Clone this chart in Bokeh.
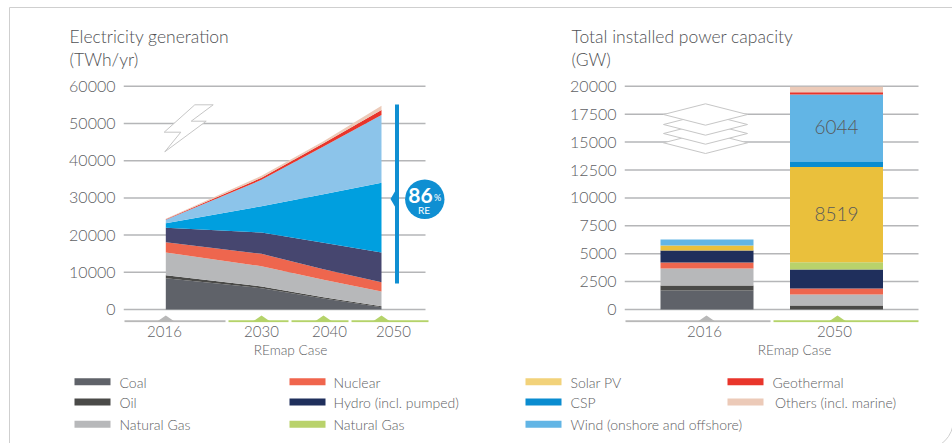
from bokeh.plotting import figure
from bokeh.layouts import column, row
from bokeh.embed import file_html
from bokeh.resources import INLINE
from bokeh.models import (Range1d, LinearAxis, FixedTicker, Title, InlineStyleSheet)
from bokeh.core.properties import value
import numpy as np

FONT = "Lato"
LIGHT = "Lato Light, Lato"
TXT = "#606164"

# ---------- data ----------
gen_years = [2016, 2030, 2040, 2050]
gen_ticks = [0, 10000, 20000, 30000, 40000, 50000, 60000]
gen_coal = [8420, 5730, 2960, 630]
gen_oil = [810, 450, 360, 270]
gen_gas = [6090, 5470, 4650, 3940]
gen_nuclear = [2780, 3310, 2870, 2510]
gen_hydro = [3850, 5740, 7080, 7970]
gen_solar = [1250, 7080, 13080, 18730]
gen_wind = [900, 7070, 12800, 18250]
gen_geo = [180, 550, 900, 1300]
gen_others = [120, 530, 550, 1200]
gen_names = ["Coal", "Oil", "Natural Gas", "Nuclear", "Hydro", "Solar", "Wind", "Geothermal", "Others"]
gen_series = [gen_coal, gen_oil, gen_gas, gen_nuclear, gen_hydro, gen_solar, gen_wind, gen_geo, gen_others]
gen_colors = ["#5f6269", "#4a4a48", "#b7b8ba", "#ee664e", "#46466f", "#009fdf", "#8cc4ea", "#e8352b", "#eccab8"]

cap_years = ["2016", "2050"]
cap_ticks = [0, 2500, 5000, 7500, 10000, 12500, 15000, 17500, 20000]
cap_coal = [1700, 0]
cap_oil = [450, 360]
cap_gas = [1530, 985]
cap_nuclear = [535, 540]
cap_hydro = [1075, 1705]
cap_green = [0, 655]
cap_solar = [450, 8519]
cap_csp = [0, 450]
cap_wind = [540, 6044]
cap_geo = [0, 200]
cap_others = [0, 500]
cap_series = [cap_coal, cap_oil, cap_gas, cap_nuclear, cap_hydro, cap_green, cap_solar, cap_csp, cap_wind, cap_geo, cap_others]
cap_colors = ["#5f6269", "#4a4a48", "#b7b8ba", "#ee664e", "#1f2f5c", "#b9d26b", "#eac03c", "#0a8cd0", "#62b5e5", "#e8352b", "#eccab8"]

legend_labels = [["Coal", "Oil", "Natural Gas"],
                 ["Nuclear", "Hydro (incl. pumped)", "Natural Gas"],
                 ["Solar PV", "CSP", "Wind (onshore and offshore)"],
                 ["Geothermal", "Others (incl. marine)"]]
legend_colors = [["#5f6269", "#4a4a48", "#b7b8ba"],
                 ["#f0654d", "#1f2f5c", "#b9d26b"],
                 ["#f2d27a", "#0a8cd0", "#62b5e5"],
                 ["#e9352b", "#eccab8"]]

# ---------- layout (page pixels) ----------
Y0 = 309.0            # page y of zero line
PX_PER_UNIT_GEN = 37.2 / 10000
PX_PER_UNIT_CAP = 37.2 / 3333.3333
FRAME_TOP, FRAME_BOTTOM = 72, 322
FIG_TOP, FIG_BOTTOM = 0, 368


def chart(fig_left, fig_right, frame_left, frame_right, scale, ticks, title1, title2, title_x):
    p = figure(width=fig_right - fig_left, height=FIG_BOTTOM - FIG_TOP, output_backend="svg",
               toolbar_location=None, x_axis_type=None, y_axis_type=None,
               min_border_left=frame_left - fig_left, min_border_right=fig_right - frame_right,
               min_border_top=FRAME_TOP - FIG_TOP, min_border_bottom=FIG_BOTTOM - FRAME_BOTTOM,
               x_range=Range1d(frame_left, frame_right),
               y_range=Range1d((Y0 - FRAME_BOTTOM) / scale, (Y0 - FRAME_TOP) / scale),
               outline_line_color=None, background_fill_color=None, border_fill_color=None)
    p.grid.visible = False
    p.extra_y_ranges = {"py": Range1d(FRAME_BOTTOM, FRAME_TOP)}
    ax = LinearAxis(ticker=FixedTicker(ticks=ticks), axis_line_color=None, major_tick_line_color=None,
                    minor_tick_line_color=None, major_label_standoff=2,
                    major_label_text_font=LIGHT, major_label_text_font_size="16px",
                    major_label_text_color=TXT)
    p.add_layout(ax, "left")
    for t, st in ((title2, 6), (title1, -6)):
        p.add_layout(Title(text=t, text_font=LIGHT, text_font_size="17.5px", text_font_style="normal",
                           text_color="#505154", text_line_height=1.0, align="left",
                           offset=title_x - frame_left, standoff=st), "above")
    return p


def below_axis(p, ticks, labels, size="15px", standoff=-3):
    ax = LinearAxis(ticker=FixedTicker(ticks=ticks), major_label_overrides=dict(zip(ticks, labels)),
                    axis_line_color=None, major_tick_line_color=None, minor_tick_line_color=None,
                    major_label_standoff=standoff, major_label_text_font=LIGHT,
                    major_label_text_font_size=size, major_label_text_color=TXT)
    p.add_layout(ax, "below")


def strips(p, spans, colors, peaks):
    for (a, b), c, m in zip(spans, colors, peaks):
        p.segment(x0=[a], x1=[b], y0=[320.7], y1=[320.7], line_color=c, line_width=2, y_range_name="py")
        p.patch(x=[m - 8, m, m + 8], y=[320.5, 315, 320.5], fill_color=c, line_color=None, y_range_name="py")


# ---------- left chart ----------
left = chart(0, 484, 123, 450, PX_PER_UNIT_GEN, gen_ticks, "Electricity generation", "(TWh/yr)", 69)
left.segment(x0=123, x1=425, y0=gen_ticks, y1=gen_ticks, line_color="#b5b6b8", line_width=1.5)
area_x = [165.3, 261, 323, 381]   # horizontal position of each year on the strip below
base = np.zeros(4)
for s, c, n in zip(gen_series, gen_colors, gen_names):
    top = base + np.array(s)
    left.varea(x=area_x, y1=base, y2=top, fill_color=c, name=n)
    base = top
below_axis(left, [164, 261, 329, 393], [str(y) for y in gen_years])
below_axis(left, [290], ["REmap Case"], size="13.7px", standoff=-5)
strips(left, [(124, 225), (228, 288), (291, 348), (351, 428)],
       ["#b8b8b8", "#b5d36a", "#b5d36a", "#b5d36a"], area_x)
# bolt icon
bolt_x = [194.3, 212.7, 190.7, 205.7, 164.3, 180.3, 163.7]
bolt_y = [104.3, 104.3, 120.7, 120.7, 151.3, 131.7, 131.7]
left.patch(x=bolt_x, y=bolt_y, fill_color="white", line_color="#c6c6c6", line_width=1, y_range_name="py")
# RE bracket
left.segment(x0=[396.5], x1=[396.5], y0=[104], y1=[283], line_color="#0f8fd2", line_width=4, y_range_name="py")
left.patch(x=[390, 395, 395], y=[198.5, 190, 207], fill_color="#0f8fd2", line_color=None, y_range_name="py")
left.circle(x=[424.3], y=[198.8], radius=19.7, fill_color="#0f8fd2", line_color=None, y_range_name="py")
left.text(x=[420], y=[194.5], text=["86"], text_color="white", text_font=value(FONT), text_font_style="bold",
          text_font_size="21px", text_align="center", text_baseline="middle", y_range_name="py")
left.text(x=[437], y=[197], text=["%"], text_color="white", text_font=value(FONT),
          text_font_size="9px", text_align="center", text_baseline="middle", y_range_name="py")
left.text(x=[423.5], y=[209], text=["RE"], text_color="white", text_font=value(FONT),
          text_font_size="10px", text_align="center", text_baseline="middle", y_range_name="py")

# ---------- right chart ----------
right = chart(484, 952, 624, 930, PX_PER_UNIT_CAP, cap_ticks, "Total installed power capacity", "(GW)", 571)
right.segment(x0=624, x1=918, y0=cap_ticks, y1=cap_ticks, line_color="#b5b6b8", line_width=1.5)
bar_x = [706.5, 836]
base = np.zeros(2)
mids = {}
for s, c in zip(cap_series, cap_colors):
    top = base + np.array(s)
    right.vbar(x=bar_x, bottom=base, top=top, width=93, fill_color=c, line_color=None)
    mids[c] = (base + top) / 2
    base = top
right.text(x=[bar_x[1]] * 2, y=[mids["#eac03c"][1], mids["#62b5e5"][1]],
           text=[str(cap_solar[1]), str(cap_wind[1])], text_color="#58595b", text_font=value(LIGHT),
           text_font_size="19px", text_align="center", text_baseline="middle", y_offset=-1)
below_axis(right, [704, 834], cap_years)
below_axis(right, [794], ["REmap Case"], size="13.7px", standoff=-5)
strips(right, [(625, 770), (773, 918)], ["#b8b8b8", "#b5d36a"], [706, 837])
# layers icon
for cy in (142.3, 133, 124, 114):
    right.patch(x=[663, 705, 747, 705], y=[cy, cy - 10.7, cy, cy + 10.7], fill_color="white",
                line_color="#c6c6c6", line_width=1, y_range_name="py")

# ---------- legend ----------
leg = figure(width=952, height=443 - FIG_BOTTOM, output_backend="svg", toolbar_location=None,
             x_axis_type=None, y_axis_type=None,
             x_range=Range1d(0, 952), y_range=Range1d(443, FIG_BOTTOM), min_border=0,
             outline_line_color=None, background_fill_color=None, border_fill_color=None)
leg.grid.visible = False
col_swatch = [74, 289, 525, 727]
col_text = [119, 333, 570, 772]
row_y = [381.5, 401.7, 424]
for ci, (labels, colors) in enumerate(zip(legend_labels, legend_colors)):
    for ri, (lab, c) in enumerate(zip(labels, colors)):
        leg.rect(x=[col_swatch[ci] + 18], y=[row_y[ri] - 0.3], width=36, height=7, fill_color=c, line_color=None)
        leg.text(x=[col_text[ci] + (2.5 if lab.startswith("Others") else 0)], y=[row_y[ri]], text=[lab],
                 text_color=TXT, text_font=value(LIGHT), text_font_size="14px",
                 text_align="left", text_baseline="middle")

frame_css = InlineStyleSheet(css=""":host { overflow: hidden; position: relative; }
:host::after { content: ""; position: absolute; left: 9px; top: 7px; width: 944.5px; height: 443px;
  border: 1.5px solid #cfcfcf; border-bottom-right-radius: 30px; pointer-events: none; box-sizing: border-box; }""")
page = column(row(left, right, spacing=0), leg, spacing=0, stylesheets=[frame_css], width=952, height=443)
open("out.html", "w").write(file_html(page, INLINE))
